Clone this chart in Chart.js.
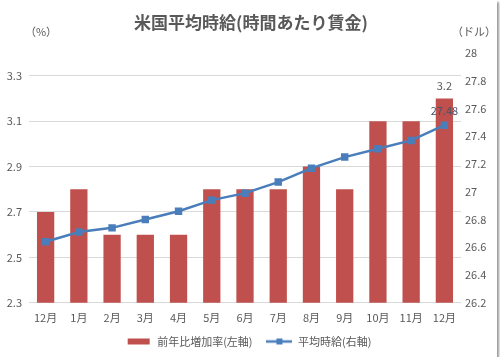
<!DOCTYPE html>
<html>
<head>
<meta charset="utf-8">
<script src="https://cdn.jsdelivr.net/npm/chart.js@4/dist/chart.umd.min.js"></script>
<style>
  html, body { margin: 0; padding: 0; background: #fff; }
  #wrap { position: relative; width: 497px; height: 357px; background: #fff; box-shadow: 2px 2px 2px #9a9a9a; }
</style>
</head>
<body>
<div id="wrap"><canvas id="wage-chart" width="497" height="357"></canvas></div>
<script>
// 米国平均時給 data
const months = ['12月', '1月', '2月', '3月', '4月', '5月', '6月', '7月', '8月', '9月', '10月', '11月', '12月'];
const growthRate = [2.7, 2.8, 2.6, 2.6, 2.6, 2.8, 2.8, 2.8, 2.9, 2.8, 3.1, 3.1, 3.2];
const hourlyWage = [26.64, 26.71, 26.74, 26.80, 26.86, 26.94, 26.99, 27.07, 27.17, 27.25, 27.31, 27.37, 27.48];
const leftTicks = [2.3, 2.5, 2.7, 2.9, 3.1, 3.3];

const FONT = "'Noto Sans CJK JP', 'Noto Sans', sans-serif";
const GREY = '#595959';
const RED = '#c0504d';
const BLUE = '#4a7ebb';

Chart.defaults.font.family = FONT;
Chart.defaults.color = GREY;

// small legend markers, Excel style
function legendSwatch(kind) {
  const c = document.createElement('canvas');
  c.width = 26; c.height = 10;
  const g = c.getContext('2d');
  if (kind === 'bar') {
    g.fillStyle = RED;
    g.fillRect(2, 2, 22, 6);
  } else {
    g.strokeStyle = BLUE;
    g.lineWidth = 2.5;
    g.beginPath(); g.moveTo(0, 5); g.lineTo(26, 5); g.stroke();
    g.fillStyle = BLUE;
    g.fillRect(10, 2, 6, 6);
  }
  return c;
}

const headerPlugin = {
  id: 'header',
  afterDraw(chart) {
    const ctx = chart.ctx;
    ctx.save();
    ctx.fillStyle = GREY;
    ctx.textBaseline = 'middle';
    ctx.font = 'bold 17px ' + FONT;
    ctx.textAlign = 'center';
    ctx.fillText('米国平均時給(時間あたり賃金)', 251, 23);
    ctx.font = '11px ' + FONT;
    ctx.fillText('（%）', 41, 32);
    ctx.fillText('（ドル）', 474, 32);
    ctx.restore();
  }
};

// value labels on the last month only
const lastLabelPlugin = {
  id: 'lastLabel',
  afterDatasetsDraw(chart) {
    const ctx = chart.ctx;
    const i = months.length - 1;
    const bar = chart.getDatasetMeta(1).data[i];
    const pt = chart.getDatasetMeta(0).data[i];
    ctx.save();
    ctx.textAlign = 'center';
    ctx.textBaseline = 'middle';
    ctx.font = '11px ' + FONT;
    ctx.fillStyle = GREY;
    ctx.fillText(String(growthRate[i]), bar.x, bar.y - 13);
    ctx.fillStyle = '#44546a';
    ctx.fillText(hourlyWage[i].toFixed(2), pt.x, pt.y - 14);
    ctx.restore();
  }
};

new Chart(document.getElementById('wage-chart'), {
  data: {
    labels: months,
    datasets: [
      {
        type: 'line',
        label: '平均時給(右軸)',
        data: hourlyWage,
        yAxisID: 'yRight',
        borderColor: BLUE,
        backgroundColor: BLUE,
        borderWidth: 2.5,
        pointStyle: 'rect',
        pointRadius: 3.5,
        pointBackgroundColor: BLUE,
        tension: 0,
        order: 0
      },
      {
        type: 'bar',
        label: '前年比増加率(左軸)',
        data: growthRate,
        yAxisID: 'yLeft',
        backgroundColor: RED,
        barPercentage: 0.52,
        categoryPercentage: 1,
        order: 1
      }
    ]
  },
  options: {
    responsive: false,
    animation: false,
    layout: { padding: { top: 53, bottom: 0, left: 0, right: 0 } },
    plugins: {
      title: { display: false },
      tooltip: { enabled: false },
      legend: {
        position: 'bottom',
        reverse: true,
        labels: {
          color: GREY,
          font: { size: 11, family: FONT },
          usePointStyle: true,
          pointStyleWidth: 26,
          padding: 4,
          generateLabels(chart) {
            return chart.data.datasets.map((ds, i) => ({
              // trailing spaces widen the gap between the two entries
              text: ds.type === 'bar' ? ds.label + '    ' : ds.label,
              pointStyle: legendSwatch(ds.type),
              fillStyle: ds.backgroundColor,
              strokeStyle: ds.backgroundColor,
              lineWidth: 0,
              hidden: false,
              datasetIndex: i,
              fontColor: GREY
            }));
          }
        }
      }
    },
    scales: {
      x: {
        grid: { display: false, drawTicks: false },
        border: { display: false },
        ticks: { font: { size: 11 }, color: GREY, padding: 8, maxRotation: 0, autoSkip: false }
      },
      yLeft: {
        position: 'left',
        min: 2.3,
        max: 3.4,
        afterBuildTicks(axis) { axis.ticks = leftTicks.map(v => ({ value: v })); },
        afterFit(axis) { axis.width = 29; },
        grid: { color: '#d9d9d9', drawTicks: false },
        border: { display: false },
        ticks: { font: { size: 11 }, color: GREY, padding: 7, callback: v => String(+v.toFixed(1)) }
      },
      yRight: {
        position: 'right',
        min: 26.2,
        max: 28,
        afterFit(axis) { axis.width = 36; },
        grid: { display: false, drawTicks: false },
        border: { display: false },
        ticks: { stepSize: 0.2, font: { size: 11 }, color: GREY, padding: 4, callback: v => String(+v.toFixed(1)) }
      }
    }
  },
  plugins: [headerPlugin, lastLabelPlugin]
});
</script>
</body>
</html>
